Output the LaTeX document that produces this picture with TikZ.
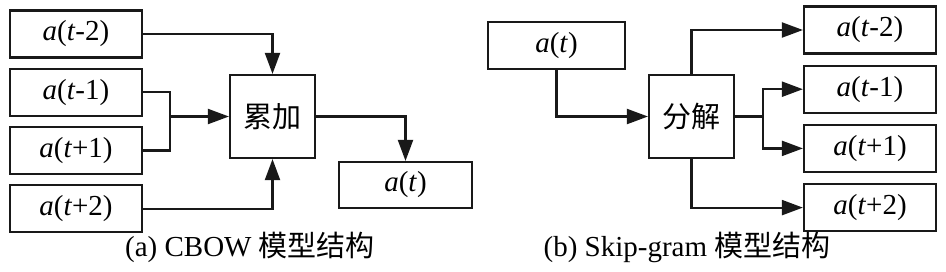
\documentclass[tikz,border=0pt]{standalone}
\usepackage{fontspec}
\setmainfont{Liberation Serif}
\newfontfamily\cjk{Noto Sans CJK SC}
\usetikzlibrary{arrows.meta,positioning}

\begin{document}
\begin{tikzpicture}[x=1pt,y=-1pt,
  word/.style={draw=black!90,line width=2.2pt,minimum width=132pt,minimum height=47pt,
    inner sep=0pt,font=\fontsize{29}{33}\selectfont},
  op/.style={word,minimum width=85pt,minimum height=83pt,font=\fontsize{29}{33}\selectfont\cjk},
  flow/.style={-{Triangle[length=21pt,width=15pt]},draw=black!90,line width=2.2pt},
  wire/.style={draw=black!90,line width=2.2pt},
  caption/.style={font=\fontsize{29}{33}\selectfont,inner sep=0pt}
]
\useasboundingbox (0,0) rectangle (946,271);
% (a) CBOW
\node[word] (lm2) at (76,34) {\textit{a}(\textit{t}-2)};
\node[word,below=9pt of lm2] (lm1) {\textit{a}(\textit{t}-1)};
\node[word,below=9pt of lm1] (lp1) {\textit{a}(\textit{t}+1)};
\node[word,below=9pt of lp1] (lp2) {\textit{a}(\textit{t}+2)};
\node[op] (sum) at (272.5,116.5) {累加};
\node[word,minimum width=133pt,minimum height=46pt] (lout) at (405.5,185) {\textit{a}(\textit{t})};
\coordinate (join) at (170,116.5);
\draw[flow] (lm2.east) -| (sum.north);
\draw[wire] (lm1.east) -| (join) |- (lp1.east);
\draw[flow] (join) -- (sum.west);
\draw[flow] (lp2.east) -| (sum.south);
\draw[flow] (sum.east) -| (lout.north);
\node[caption] (capa) at (250,247) {(a) CBOW {\cjk 模型结构}};
% (b) Skip-gram
\node[word,minimum width=137pt] (rin) at (556.5,45.5) {\textit{a}(\textit{t})};
\node[op] (split) at (691.5,116.5) {分解};
\node[word] (rm2) at (870,30) {\textit{a}(\textit{t}-2)};
\node[word,below=10pt of rm2] (rm1) {\textit{a}(\textit{t}-1)};
\node[word,below=10pt of rm1] (rp1) {\textit{a}(\textit{t}+1)};
\node[word,below=10pt of rp1] (rp2) {\textit{a}(\textit{t}+2)};
\coordinate (fork) at (763,116.5);
\draw[flow] (rin.south) |- (split.west);
\draw[flow] (split.north) |- (rm2.west);
\draw[wire] (split.east) -- (fork);
\draw[flow] (fork) |- (rm1.west);
\draw[flow] (fork) |- (rp1.west);
\draw[flow] (split.south) |- (rp2.west);
\node[caption] (capb) at (687,247) {(b) Skip-gram {\cjk 模型结构}};
\end{tikzpicture}
\end{document}
